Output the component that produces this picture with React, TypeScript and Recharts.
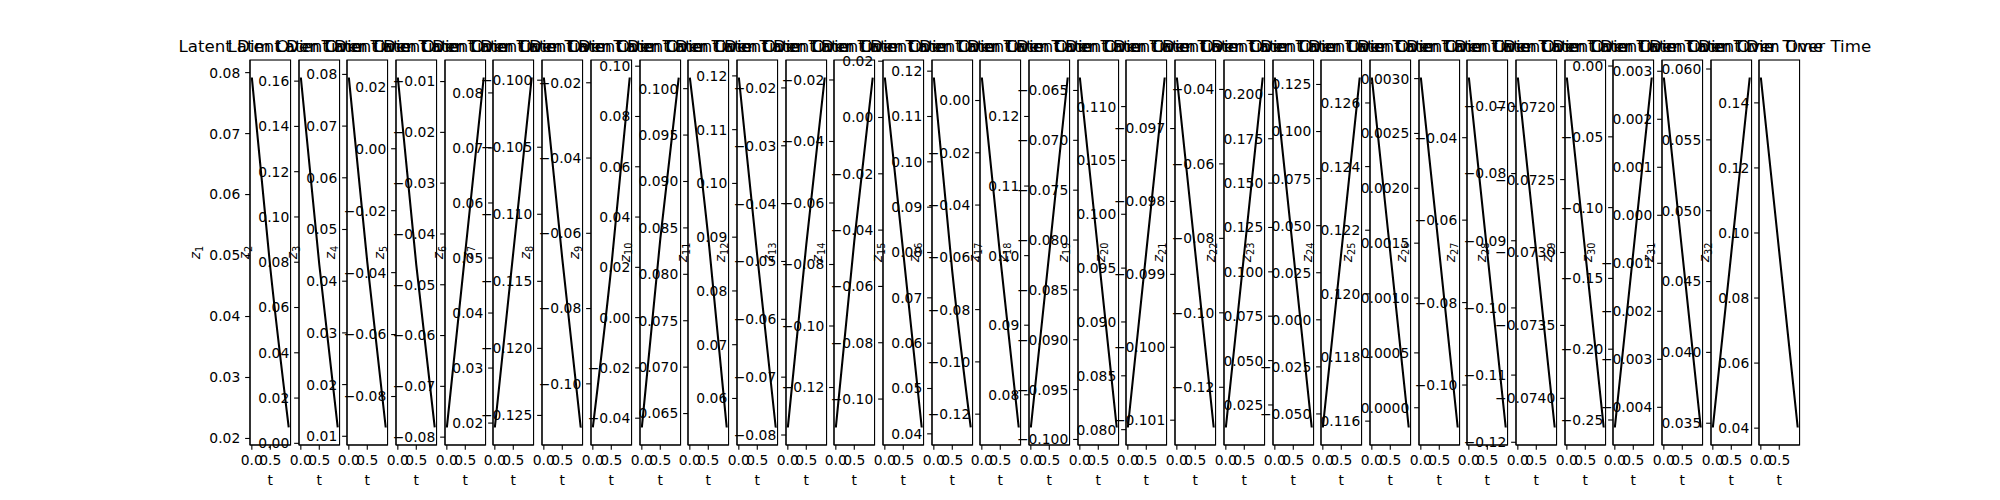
import React from "react";
import { LineChart, Line, XAxis, YAxis, Label } from "recharts";

// time points
const T = [0, 0.5, 1];

// latent dimension values
const z1 = [0.0792, 0.048, 0.0218];
const z2 = [0.1616, 0.079, 0.007];
const z3 = [0.0794, 0.0437, 0.0117];
const z4 = [0.023, -0.0375, -0.09];
const z5 = [-0.0781, -0.0436, -0.0092];
const z6 = [0.0192, 0.051, 0.0828];
const z7 = [-0.0998, -0.1133, -0.1259];
const z8 = [-0.1116, -0.069, -0.0186];
const z9 = [-0.0437, 0.0312, 0.0955];
const z10 = [0.1012, 0.084, 0.0635];
const z11 = [0.1197, 0.0865, 0.0546];
const z12 = [-0.0787, -0.0471, -0.0182];
const z13 = [-0.133, -0.0724, -0.0192];
const z14 = [0.0142, -0.048, -0.1101];
const z15 = [0.1186, 0.0758, 0.0414];
const z16 = [0.0088, -0.06, -0.1251];
const z17 = [0.0753, 0.1004, 0.1256];
const z18 = [-0.0637, -0.0813, -0.0988];
const z19 = [0.0802, 0.0965, 0.1127];
const z20 = [-0.0963, -0.0987, -0.1011];
const z21 = [-0.1308, -0.0838, -0.0368];
const z22 = [0.2095, 0.111, 0.0123];
const z23 = [-0.0572, 0.0357, 0.1287];
const z24 = [0.1268, 0.1213, 0.1158];
const z25 = [0.00301, 0.00142, -0.00018];
const z26 = [-0.0254, -0.0679, -0.1103];
const z27 = [-0.0657, -0.0918, -0.1178];
const z28 = [-0.0718, -0.073, -0.0742];
const z29 = [-0.2553, -0.1317, -0.0081];
const z30 = [0.00287, -0.00078, -0.00442];
const z31 = [0.0347, 0.047, 0.0594];
const z32 = [0.1478, 0.094, 0.0402];

// y tick labels per subplot
const yt1 = ["0.02", "0.03", "0.04", "0.05", "0.06", "0.07", "0.08"];
const yt2 = ["0.00", "0.02", "0.04", "0.06", "0.08", "0.10", "0.12", "0.14", "0.16"];
const yt3 = ["0.01", "0.02", "0.03", "0.04", "0.05", "0.06", "0.07", "0.08"];
const yt4 = ["-0.08", "-0.06", "-0.04", "-0.02", "0.00", "0.02"];
const yt5 = ["-0.08", "-0.07", "-0.06", "-0.05", "-0.04", "-0.03", "-0.02", "-0.01"];
const yt6 = ["0.02", "0.03", "0.04", "0.05", "0.06", "0.07", "0.08"];
const yt7 = ["-0.125", "-0.120", "-0.115", "-0.110", "-0.105", "-0.100"];
const yt8 = ["-0.10", "-0.08", "-0.06", "-0.04", "-0.02"];
const yt9 = ["-0.04", "-0.02", "0.00", "0.02", "0.04", "0.06", "0.08", "0.10"];
const yt10 = ["0.065", "0.070", "0.075", "0.080", "0.085", "0.090", "0.095", "0.100"];
const yt11 = ["0.06", "0.07", "0.08", "0.09", "0.10", "0.11", "0.12"];
const yt12 = ["-0.08", "-0.07", "-0.06", "-0.05", "-0.04", "-0.03", "-0.02"];
const yt13 = ["-0.12", "-0.10", "-0.08", "-0.06", "-0.04", "-0.02"];
const yt14 = ["-0.10", "-0.08", "-0.06", "-0.04", "-0.02", "0.00", "0.02"];
const yt15 = ["0.04", "0.05", "0.06", "0.07", "0.08", "0.09", "0.10", "0.11", "0.12"];
const yt16 = ["-0.12", "-0.10", "-0.08", "-0.06", "-0.04", "-0.02", "0.00"];
const yt17 = ["0.08", "0.09", "0.10", "0.11", "0.12"];
const yt18 = ["-0.100", "-0.095", "-0.090", "-0.085", "-0.080", "-0.075", "-0.070", "-0.065"];
const yt19 = ["0.080", "0.085", "0.090", "0.095", "0.100", "0.105", "0.110"];
const yt20 = ["-0.101", "-0.100", "-0.099", "-0.098", "-0.097"];
const yt21 = ["-0.12", "-0.10", "-0.08", "-0.06", "-0.04"];
const yt22 = ["0.025", "0.050", "0.075", "0.100", "0.125", "0.150", "0.175", "0.200"];
const yt23 = ["-0.050", "-0.025", "0.000", "0.025", "0.050", "0.075", "0.100", "0.125"];
const yt24 = ["0.116", "0.118", "0.120", "0.122", "0.124", "0.126"];
const yt25 = ["0.0000", "0.0005", "0.0010", "0.0015", "0.0020", "0.0025", "0.0030"];
const yt26 = ["-0.10", "-0.08", "-0.06", "-0.04"];
const yt27 = ["-0.12", "-0.11", "-0.10", "-0.09", "-0.08", "-0.07"];
const yt28 = ["-0.0740", "-0.0735", "-0.0730", "-0.0725", "-0.0720"];
const yt29 = ["-0.25", "-0.20", "-0.15", "-0.10", "-0.05", "0.00"];
const yt30 = ["-0.004", "-0.003", "-0.002", "-0.001", "0.000", "0.001", "0.002", "0.003"];
const yt31 = ["0.035", "0.040", "0.045", "0.050", "0.055", "0.060"];
const yt32 = ["0.04", "0.06", "0.08", "0.10", "0.12", "0.14"];

const X_TICKS = [0, 0.5];
const X_TICK_LABELS = ["0.0", "0.5"];
const X_LABEL = "t";
const TITLE = "Latent Dim Over Time";

const Z = [z1, z2, z3, z4, z5, z6, z7, z8, z9, z10, z11, z12, z13, z14, z15, z16,
  z17, z18, z19, z20, z21, z22, z23, z24, z25, z26, z27, z28, z29, z30, z31, z32];
const YT = [yt1, yt2, yt3, yt4, yt5, yt6, yt7, yt8, yt9, yt10, yt11, yt12, yt13, yt14, yt15, yt16,
  yt17, yt18, yt19, yt20, yt21, yt22, yt23, yt24, yt25, yt26, yt27, yt28, yt29, yt30, yt31, yt32];

// layout (matplotlib subplot geometry)
const FIG_W = 2000;
const FIG_H = 500;
const AX_W = 1550 / 38.2;
const PITCH = AX_W * 1.2;
const LEFT0 = 250;
const TOP = 60;
const BOTTOM = 445;
const PADL = 110;
const PADR = 110;
const FONT = "DejaVu Sans";
const FS = 13.89;
const TITLE_FS = 16.67;
const TICK_LEN = 4.86;
const TICK_PAD = 4.86;
const LW = 1.11;

const CHAR_W: Record<string, number> = {
  "0": 0.636, "1": 0.636, "2": 0.636, "3": 0.636, "4": 0.636, "5": 0.636,
  "6": 0.636, "7": 0.636, "8": 0.636, "9": 0.636, ".": 0.318, "\u2212": 0.838,
};
const fmt = (s: string) => s.replace("-", "\u2212");
const textW = (s: string) => s.split("").reduce((a, c) => a + (CHAR_W[c] ?? 0.6), 0) * FS;

function Panel({ i }: { i: number }) {
  const vals = Z[i];
  const data = T.map((t, j) => ({ t, v: vals[j] }));
  const lo = Math.min(...vals);
  const hi = Math.max(...vals);
  const r = hi - lo;
  const dom: [number, number] = [lo - 0.05 * r, hi + 0.05 * r];
  const labels = YT[i];
  const ticks = labels.map(Number);
  const maxW = Math.max(...labels.map((s) => textW(fmt(s))));
  const chartW = PADL + AX_W + PADR;
  const left = LEFT0 + i * PITCH - PADL;
  const yFmt = (v: number) => {
    const l = labels.find((s) => Math.abs(Number(s) - v) < 1e-9);
    return l ? fmt(l) : String(v);
  };
  const xFmt = (v: number) => {
    const k = X_TICKS.findIndex((x) => Math.abs(x - v) < 1e-9);
    return k >= 0 ? X_TICK_LABELS[k] : String(v);
  };
  const labelX = PADL - TICK_LEN - TICK_PAD - maxW - 5.56 - 3.3;
  const midY = (TOP + BOTTOM) / 2;
  const yLabel = () => (
    <g>
      <rect
        x={PADL}
        y={TOP}
        width={AX_W}
        height={BOTTOM - TOP}
        fill="none"
        stroke="#000"
        strokeWidth={LW}
      />
      <text
        x={PADL + AX_W / 2}
        y={51.7}
        textAnchor="middle"
        fontFamily={FONT}
        fontSize={TITLE_FS}
        fill="#000"
      >
        {TITLE}
      </text>
      <text
        x={labelX}
        y={midY}
        transform={`rotate(-90 ${labelX} ${midY})`}
        textAnchor="middle"
        fontFamily={FONT}
        fontSize={FS}
        fill="#000"
      >
        <tspan fontStyle="italic">z</tspan>
        <tspan fontSize={FS * 0.7} dy={2.8}>{String(i + 1)}</tspan>
      </text>
    </g>
  );
  const xLabel = () => (
    <text
      x={PADL + AX_W / 2}
      y={485}
      textAnchor="middle"
      fontFamily={FONT}
      fontSize={FS}
      fill="#000"
    >
      {X_LABEL}
    </text>
  );
  return (
    <div style={{ position: "absolute", left, top: 0, width: chartW, height: FIG_H }}>
      <LineChart
        width={chartW}
        height={FIG_H}
        data={data}
        margin={{ top: TOP, right: PADR, bottom: 0, left: 0 }}
      >
        <XAxis
          dataKey="t"
          type="number"
          domain={[-0.05, 1.05]}
          allowDataOverflow
          ticks={X_TICKS}
          interval={0}
          tickFormatter={xFmt}
          height={FIG_H - BOTTOM}
          tickSize={TICK_LEN}
          tickMargin={TICK_PAD}
          axisLine={{ stroke: "#000", strokeWidth: LW }}
          tickLine={{ stroke: "#000", strokeWidth: LW }}
          tick={{ fill: "#000", fontSize: FS, fontFamily: FONT }}
        >
          <Label content={xLabel} />
        </XAxis>
        <YAxis
          type="number"
          domain={dom}
          allowDataOverflow
          ticks={ticks}
          interval={0}
          tickFormatter={yFmt}
          width={PADL}
          tickSize={TICK_LEN}
          tickMargin={TICK_PAD}
          axisLine={{ stroke: "#000", strokeWidth: LW }}
          tickLine={{ stroke: "#000", strokeWidth: LW }}
          tick={{ fill: "#000", fontSize: FS, fontFamily: FONT }}
        >
          <Label content={yLabel} />
        </YAxis>
        <Line
          dataKey="v"
          type="monotone"
          stroke="#000"
          strokeWidth={2.08}
          dot={false}
          isAnimationActive={false}
        />
      </LineChart>
    </div>
  );
}

export default function App() {
  return (
    <div
      style={{
        position: "absolute",
        left: 0,
        top: 0,
        width: FIG_W,
        height: FIG_H,
        background: "#fff",
        overflow: "hidden",
      }}
    >
      {Z.map((_, i) => (
        <Panel key={i} i={i} />
      ))}
    </div>
  );
}
